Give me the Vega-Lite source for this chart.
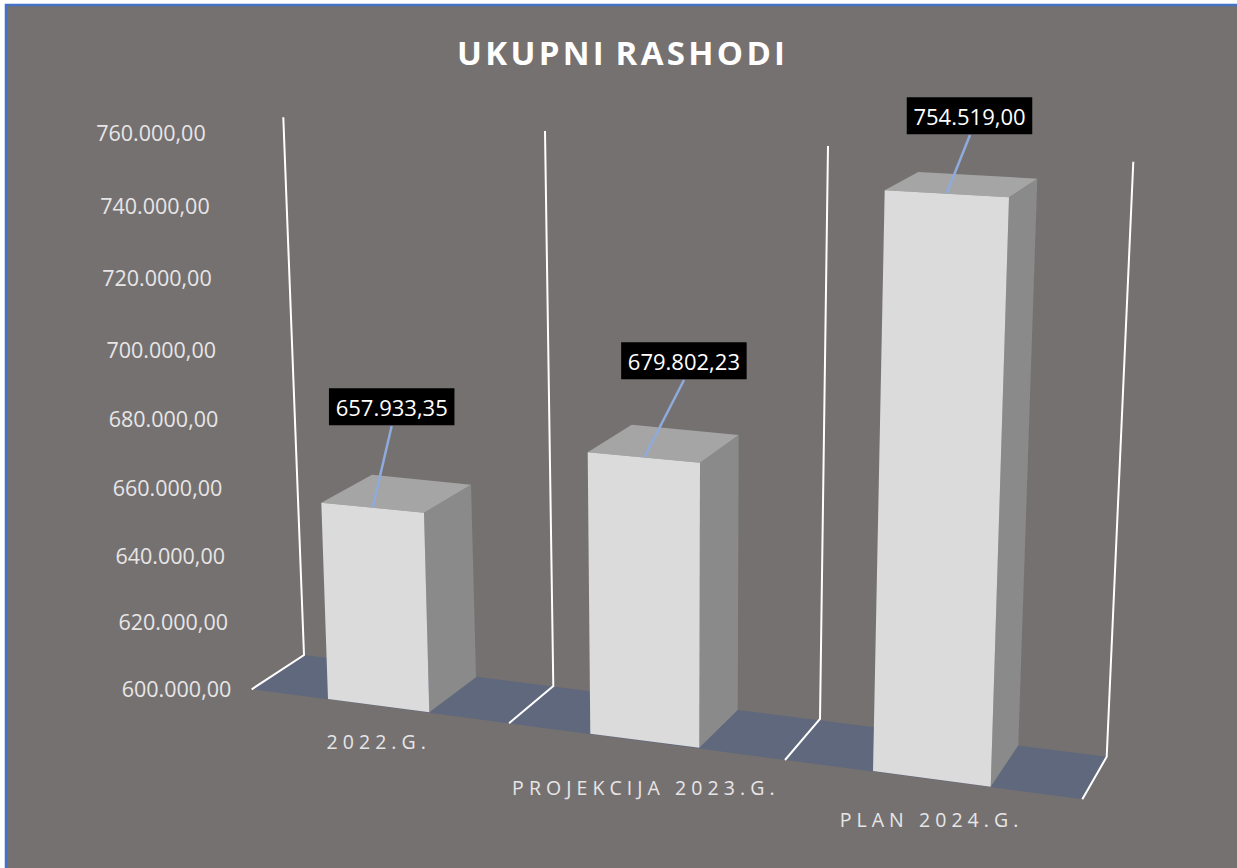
{
"$schema":"https://vega.github.io/schema/vega-lite/v6.json",
"width":1233,"height":865,
"autosize":"none",
"padding":{"left":6,"top":5,"right":0,"bottom":0},
"background":"#ffffff",
"view":{"fill":"#767171","stroke":"#4472C4","strokeWidth":2.5},
"title":{"text":"U\u200aK\u200aU\u200aP\u200aN\u200aI\u00a0\u200aR\u200aA\u200aS\u200aH\u200aO\u200aD\u200aI","font":"Open Sans","fontSize":33,"fontWeight":"bold","color":"#ffffff","anchor":"middle","frame":"group","baseline":"alphabetic","offset":-63,"dy":30,"dx":-1.5},
"data":{"values":[
{"godina":"2022.G.","natpis":"2 0 2 2 . G .","rashodi":657933.35,"oznaka":"657.933,35"},
{"godina":"PROJEKCIJA 2023.G.","natpis":"P R O J E K C I J A \u00a0 2 0 2 3 . G .","rashodi":679802.23,"oznaka":"679.802,23"},
{"godina":"PLAN 2024.G.","natpis":"P L A N \u00a0 2 0 2 4 . G .","rashodi":754519,"oznaka":"754.519,00"}
]},
"resolve":{"scale":{"x":"independent","y":"independent","shape":"independent"}},
"layer":[
{"data":{"values":[{"vrijednost":600000}]},
 "mark":{"type":"point","filled":true,"size":4,"opacity":1,"color":"#5F687C","strokeWidth":0,"shape":"M0,0L802.7,101.7L778.3,144.3L-52.3,34.3Z"},
 "encoding":{"x":{"field":"vrijednost","type":"quantitative","axis":null,"scale":{"domain":[600000,760000],"range":[298,800],"zero":false,"nice":false}},
 "y":{"field":"vrijednost","type":"quantitative","axis":null,"scale":{"domain":[600000,760000],"range":[650,100],"zero":false,"nice":false}}}},
{"data":{"values":[{"vrijednost":600000}]},
 "mark":{"type":"point","filled":false,"size":4,"opacity":1,"color":"#ffffff","strokeWidth":2,"shape":"M-20.7,-537.7L0,0L-52.3,34.3M241,-524L249.3,31L205,68.3M524,-509L516,64L481,105M829.3,-493.3L802.7,101.7L778.3,144.3"},
 "encoding":{"x":{"field":"vrijednost","type":"quantitative","axis":null,"scale":{"domain":[600000,760000],"range":[298,800],"zero":false,"nice":false}},
 "y":{"field":"vrijednost","type":"quantitative","axis":null,"scale":{"domain":[600000,760000],"range":[650,100],"zero":false,"nice":false}}}},
{"mark":{"type":"point","filled":true,"size":4,"opacity":1,"color":"#8A8A8A","strokeWidth":0},
 "encoding":{"x":{"field":"rashodi","type":"quantitative","axis":null,"scale":{"domain":[657933.35,679802.23,754519],"range":[315.3,581.7,878.7],"zero":false,"nice":false}},
 "y":{"field":"rashodi","type":"quantitative","axis":null,"scale":{"domain":[657933.35,679802.23,754519],"range":[497.7,447.3,185.3],"zero":false,"nice":false}},
 "shape":{"field":"godina","type":"nominal","legend":null,"scale":{"domain":["2022.G.","PROJEKCIJA 2023.G.","PLAN 2024.G."],"range":["M102.7,10L149.7,-18L154.7,174.6L108,209.6Z","M112.3,10.4L151,-17.3L150,257.7L111.6,295.4Z","M124.3,7L152.6,-11.6L133.6,555L106,596.4Z"]}}}},
{"mark":{"type":"point","filled":true,"size":4,"opacity":1,"color":"#A5A5A5","strokeWidth":0},
 "encoding":{"x":{"field":"rashodi","type":"quantitative","axis":null,"scale":{"domain":[657933.35,679802.23,754519],"range":[315.3,581.7,878.7],"zero":false,"nice":false}},
 "y":{"field":"rashodi","type":"quantitative","axis":null,"scale":{"domain":[657933.35,679802.23,754519],"range":[497.7,447.3,185.3],"zero":false,"nice":false}},
 "shape":{"field":"godina","type":"nominal","legend":null,"scale":{"domain":["2022.G.","PROJEKCIJA 2023.G.","PLAN 2024.G."],"range":["M0,0L50.7,-28L149.7,-18L102.7,10Z","M0,0L44,-27.6L151,-17.3L112.3,10.4Z","M0,0L33.6,-18.3L152.6,-11.6L124.3,7Z"]}}}},
{"mark":{"type":"point","filled":true,"size":4,"opacity":1,"color":"#DBDBDB","strokeWidth":0},
 "encoding":{"x":{"field":"rashodi","type":"quantitative","axis":null,"scale":{"domain":[657933.35,679802.23,754519],"range":[315.3,581.7,878.7],"zero":false,"nice":false}},
 "y":{"field":"rashodi","type":"quantitative","axis":null,"scale":{"domain":[657933.35,679802.23,754519],"range":[497.7,447.3,185.3],"zero":false,"nice":false}},
 "shape":{"field":"godina","type":"nominal","legend":null,"scale":{"domain":["2022.G.","PROJEKCIJA 2023.G.","PLAN 2024.G."],"range":["M0,0L102.7,10L108,209.6L6.7,196.3Z","M0,0L112.3,10.4L111.6,295.4L2.6,281.4Z","M0,0L124.3,7L106,596.4L-11.7,580.7Z"]}}}},
{"mark":{"type":"point","filled":false,"size":4,"opacity":1,"color":"#8FAADC","strokeWidth":2.5},
 "encoding":{"x":{"field":"rashodi","type":"quantitative","axis":null,"scale":{"domain":[657933.35,679802.23,754519],"range":[315.3,581.7,878.7],"zero":false,"nice":false}},
 "y":{"field":"rashodi","type":"quantitative","axis":null,"scale":{"domain":[657933.35,679802.23,754519],"range":[497.7,447.3,185.3],"zero":false,"nice":false}},
 "shape":{"field":"godina","type":"nominal","legend":null,"scale":{"domain":["2022.G.","PROJEKCIJA 2023.G.","PLAN 2024.G."],"range":["M70.4,-76.7L51.4,4.6","M96.3,-72.3L56.6,5","M85.3,-55.3L62,3"]}}}},
{"mark":{"type":"point","filled":true,"size":4,"opacity":1,"color":"#000000","strokeWidth":0,"shape":"M-62.75,-18.5L62.75,-18.5L62.75,18.5L-62.75,18.5Z"},
 "encoding":{"x":{"field":"rashodi","type":"quantitative","axis":null,"scale":{"domain":[657933.35,679802.23,754519],"range":[385.7,677.9,963.5],"zero":false,"nice":false}},
 "y":{"field":"rashodi","type":"quantitative","axis":null,"scale":{"domain":[657933.35,679802.23,754519],"range":[401.8,355.8,110.8],"zero":false,"nice":false}}}},
{"mark":{"type":"text","font":"Open Sans","fontSize":22,"color":"#ffffff","align":"center","baseline":"middle"},
 "encoding":{"x":{"field":"rashodi","type":"quantitative","axis":null,"scale":{"domain":[657933.35,679802.23,754519],"range":[385.7,677.9,963.5],"zero":false,"nice":false}},
 "y":{"field":"rashodi","type":"quantitative","axis":null,"scale":{"domain":[657933.35,679802.23,754519],"range":[403.8,357.8,112.8],"zero":false,"nice":false}},
 "text":{"field":"oznaka"}}},
{"data":{"values":[
{"vrijednost":600000,"tekst":"600.000,00"},{"vrijednost":620000,"tekst":"620.000,00"},{"vrijednost":640000,"tekst":"640.000,00"},{"vrijednost":660000,"tekst":"660.000,00"},{"vrijednost":680000,"tekst":"680.000,00"},{"vrijednost":700000,"tekst":"700.000,00"},{"vrijednost":720000,"tekst":"720.000,00"},{"vrijednost":740000,"tekst":"740.000,00"},{"vrijednost":760000,"tekst":"760.000,00"}]},
 "mark":{"type":"text","font":"Open Sans","fontSize":21.5,"color":"#E7E6E6","align":"right","baseline":"middle"},
 "encoding":{"x":{"field":"vrijednost","type":"quantitative","axis":null,"scale":{"domain":[600000,620000,640000,660000,680000,700000,720000,740000,760000],"range":[225.3,222,219,216.3,212.3,210,205.7,203.7,199.7],"zero":false,"nice":false}},
 "y":{"field":"vrijednost","type":"quantitative","axis":null,"scale":{"domain":[600000,620000,640000,660000,680000,700000,720000,740000,760000],"range":[686,619.4,553.4,485,415.7,346.7,274.7,202.7,129.7],"zero":false,"nice":false}},
 "text":{"field":"tekst"}}},
{"mark":{"type":"text","font":"Open Sans","fontSize":19.5,"color":"#E7E6E6","align":"center","baseline":"middle"},
 "encoding":{"x":{"field":"rashodi","type":"quantitative","axis":null,"scale":{"domain":[657933.35,679802.23,754519],"range":[370.2,637.3,923],"zero":false,"nice":false}},
 "y":{"field":"rashodi","type":"quantitative","axis":null,"scale":{"domain":[657933.35,679802.23,754519],"range":[738,784.3,816],"zero":false,"nice":false}},
 "text":{"field":"natpis"}}}
]
}
